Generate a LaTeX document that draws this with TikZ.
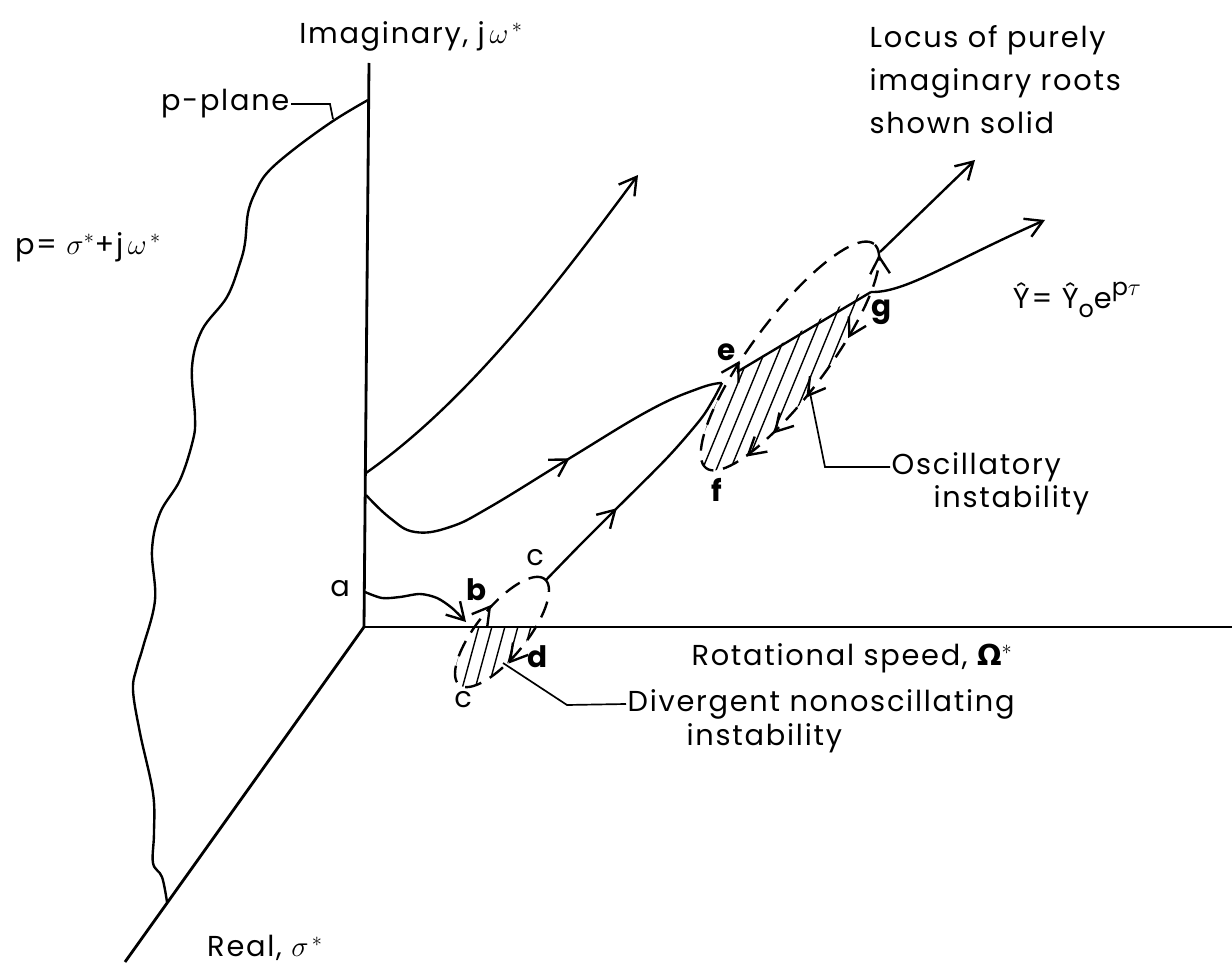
\documentclass[tikz,border=0pt]{standalone}
\usepackage[no-math]{fontspec}
\setmainfont{Poppins}[LetterSpace=6]
\newfontfamily\symfont{DejaVu Sans}
\usetikzlibrary{arrows.meta,decorations.markings}

\begin{document}
\begin{tikzpicture}[
  x=0.025cm, y=-0.025cm,
  axis/.style = {line width=2pt},
  locus/.style = {line width=1.7pt, line join=round},
  complex/.style = {line width=1.7pt, dash pattern=on 12pt off 7pt},
  hatch/.style = {line width=1pt},
  leader/.style = {line width=1.2pt},
  txt/.style = {font=\fontsize{20.5}{30.5}\selectfont, inner sep=1pt},
  root/.style = {font=\fontsize{21}{24}\selectfont\bfseries, inner sep=1pt},
  >={Straight Barb[length=12pt,width=14pt]},
  flow/.style = {postaction={decorate, decoration={markings,
      mark=at position #1 with {\arrow{>}}}}}
]
\useasboundingbox (0,0) rectangle (1232,965);

% axes
\coordinate (O) at (364,627);
\coordinate (imtop) at (369,63);
\coordinate (retip) at (125,962);
\coordinate (rsend) at (1232,627);
\draw[axis] (O) -- (imtop);
\draw[axis] (O) -- (retip);
\draw[line width=1pt] (O) -- (rsend);

\node[txt] (imlab) at (411,36) {Imaginary, j\,$\omega^{\,*}$};
\node[txt] (relab) at (265,948) {Real, $\sigma^{\,*}$};
\node[txt] (rotlab) at (852,658) {Rotational speed, {\symfont\bfseries Ω}$^*$};
\node[txt] (pdef) at (88,247) {p= $\sigma^*$+j\,$\omega^{\,*}$};

% p-plane boundary
\coordinate (pp0) at (368,100);
\coordinate (pp1) at (167,902);
\draw[locus] plot[smooth, tension=0.6] coordinates {(pp0) (333,121) (293,150)
  (267,173) (255,193) (248,213) (245,243) (240,263) (227,297) (202,330)
  (192,367) (195,417) (193,440) (180,480) (160,513) (152,550) (155,600)
  (143,647) (137,667) (133,690) (140,733) (153,793) (154,833) (153,863)
  (162,877) (pp1)};
\node[txt, anchor=east] (ppl) at (291,104) {p-plane};
\draw[leader] (ppl.east) -- (330,104) -- (333,119);

% small region c-d
\begin{scope}
  \clip plot[domain=0:360, samples=91, variable=\t]
    ({502+68*cos(\t)*0.629-25*sin(\t)*0.777}, {632-68*cos(\t)*0.777-25*sin(\t)*0.629});
  \clip (400,627) rectangle (600,720);
  \foreach \i in {0,...,12}
    \draw[hatch] (420+\i*13,700) -- ++(22,-81);
\end{scope}
\draw[complex, postaction={decorate, decoration={markings,
    mark=at position 0.27 with {\arrow{<}},
    mark=at position 0.75 with {\arrow{<}}}}]
  plot[domain=0:360, samples=91, variable=\t]
  ({502+68*cos(\t)*0.629-25*sin(\t)*0.777}, {632-68*cos(\t)*0.777-25*sin(\t)*0.629});

% large region e-f-g
\coordinate (e0) at (737,372);
\coordinate (g0) at (871,292);
\begin{scope}
  \clip plot[domain=0:360, samples=91, variable=\t]
    ({790+140*cos(\t)*0.599-38*sin(\t)*0.801}, {356-140*cos(\t)*0.801-38*sin(\t)*0.599});
  \clip (659,422) -- (948,237) -- (1000,600) -- (650,600) -- cycle;
  \foreach \i in {0,...,22}
    \draw[hatch] (600+\i*14,480) -- ++(110,-267);
\end{scope}
\draw[complex, postaction={decorate, decoration={markings,
    mark=at position 0.34 with {\arrow{<}},
    mark=at position 0.606 with {\arrow{<}},
    mark=at position 0.665 with {\arrow{<}},
    mark=at position 0.745 with {\arrow{<}},
    mark=at position 0.865 with {\arrow{<}},
    mark=at position 0.98 with {\arrow{>}}}}]
  plot[domain=0:360, samples=91, variable=\t]
  ({790+140*cos(\t)*0.599-38*sin(\t)*0.801}, {356-140*cos(\t)*0.801-38*sin(\t)*0.599});

% root loci
\coordinate (u0) at (366,473);
\coordinate (utip) at (638,175);
\draw[locus,->] (u0) .. controls (470,400) and (560,280) .. (utip);

\coordinate (m0) at (366,495);
\coordinate (etip) at (722,383);
\draw[locus, flow=0.58] plot[smooth, tension=0.7] coordinates {(m0) (390,518)
  (415,532) (450,527) (490,507) (570,458) (650,410) (700,388) (etip)};

\coordinate (ctop) at (546,580);
\draw[locus, flow=0.38] plot[smooth] coordinates {(ctop) (580,545) (613,512)
  (667,458) (700,420) (713,400) (etip)};

\coordinate (a0) at (365,592);
\coordinate (b0) at (466,622);
\draw[locus,->] plot[smooth] coordinates {(a0) (382,598) (400,597) (420,594)
  (437,598) (452,608) (b0)};

\draw[locus] (e0) -- (g0);
\coordinate (rtip) at (1045,220);
\draw[locus,->] (g0) .. controls (905,293) and (950,262) .. (rtip);
\coordinate (gtop) at (880,252);
\coordinate (qtip) at (975,160);
\draw[locus,->] (gtop) -- (qtip);

% point labels
\node[txt] (la) at (340,589) {a};
\node[root] (lb) at (477,590) {b};
\node[txt] (lc1) at (535,558) {c};
\node[root] (ld) at (538,657) {d};
\node[txt] (lc2) at (463,700) {c};
\node[root] (le) at (727,352) {e};
\node[root] (lf) at (717,490) {f};
\node[root] (lg) at (882,312) {g};

% notes
\node[txt, anchor=west] (div) at (626,704) {Divergent nonoscillating};
\node[txt, anchor=west] (div2) at (685,738) {instability};
\draw[leader] (503,663) -- (567,705) -- (div.west);

\node[txt, anchor=west] (osc) at (890,467) {Oscillatory};
\node[txt, anchor=west] (osc2) at (932,500) {instability};
\draw[leader] (808,383) -- (825,467) -- (osc.west);

\node[txt, anchor=north west, align=left] (loc) at (868,24)
  {Locus of purely\\imaginary roots\\shown solid};
\node[txt] (eqn) at (1077,300) {Ŷ= Ŷ\raisebox{-0.6ex}{\fontsize{17}{20}\selectfont o}e\raisebox{0.8ex}{\fontsize{17}{20}\selectfont p$\tau$}};
\end{tikzpicture}
\end{document}
